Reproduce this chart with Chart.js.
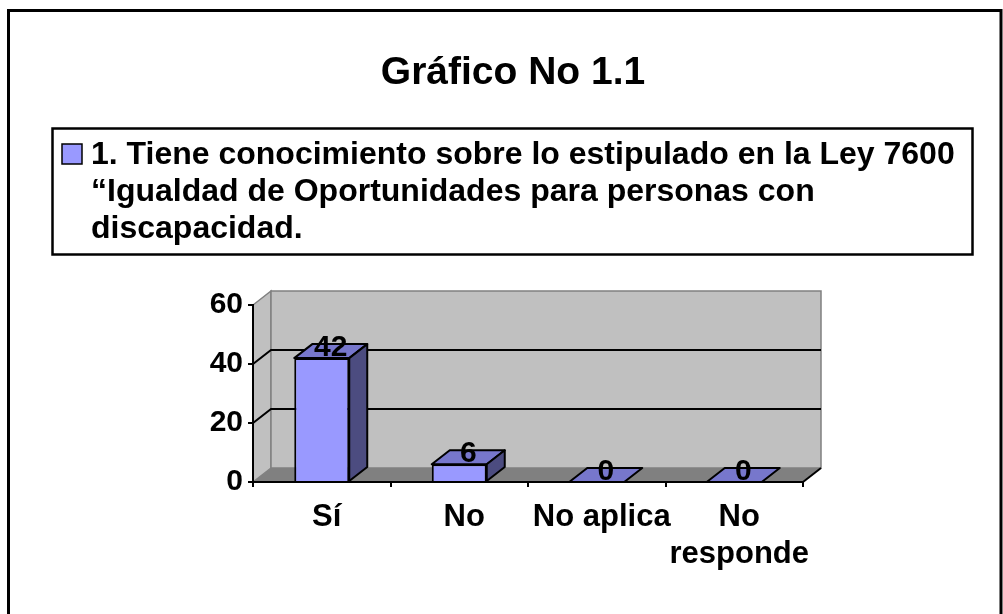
<!DOCTYPE html>
<html>
<head>
<meta charset="utf-8">
<script src="https://cdn.jsdelivr.net/npm/chart.js@4.4.0/dist/chart.umd.min.js"></script>
<style>
  html, body { margin: 0; padding: 0; background: #fff; }
  #wrap { position: relative; width: 1003px; height: 614px; }
</style>
</head>
<body>
<div id="wrap"><canvas id="chart" width="1003" height="614"></canvas></div>
<script>
// -------------------------------
// DATA
// -------------------------------
const chartTitle = "Gráfico No 1.1";
const seriesLines = [
    "1. Tiene conocimiento sobre lo estipulado en la Ley 7600",
    "“Igualdad de Oportunidades para personas con",
    "discapacidad."
];
const categories = ["Sí", "No", "No aplica", ["No", "responde"]];
const values = [42, 6, 0, 0];
const yTicks = [0, 20, 40, 60];

// -------------------------------
// STYLE
// -------------------------------
const FONT = "'Liberation Sans', Arial, sans-serif";
const DX = 18, DY = -14;           // depth offset of the 3D box
const barFront = "#9999ff";
const barTop = "#7777cc";
const barSide = "#4c4c80";

Chart.defaults.font.family = FONT;
Chart.defaults.color = "#000";

// walls, floor and back gridlines (drawn before the axes)
const wallsPlugin = {
    id: "walls3d",
    beforeDraw(chart) {
        const { ctx, chartArea: a, scales: { y } } = chart;
        ctx.save();

        // page frame
        ctx.strokeStyle = "#000";
        ctx.lineWidth = 3;
        ctx.beginPath();
        ctx.moveTo(8.5, 614);
        ctx.lineTo(8.5, 10.5);
        ctx.lineTo(1001, 10.5);
        ctx.lineTo(1001, 614);
        ctx.stroke();

        // side wall
        ctx.fillStyle = "#c0c0c0";
        ctx.strokeStyle = "#808080";
        ctx.lineWidth = 1.5;
        ctx.beginPath();
        ctx.moveTo(a.left, a.top);
        ctx.lineTo(a.left + DX, a.top + DY);
        ctx.lineTo(a.left + DX, a.bottom + DY);
        ctx.lineTo(a.left, a.bottom);
        ctx.closePath();
        ctx.fill();
        ctx.stroke();

        // back wall
        ctx.fillRect(a.left + DX, a.top + DY, a.width, a.height);
        ctx.strokeRect(a.left + DX, a.top + DY, a.width, a.height);

        // floor
        ctx.fillStyle = "#808080";
        ctx.beginPath();
        ctx.moveTo(a.left, a.bottom);
        ctx.lineTo(a.left + DX, a.bottom + DY);
        ctx.lineTo(a.right + DX, a.bottom + DY);
        ctx.lineTo(a.right, a.bottom);
        ctx.closePath();
        ctx.fill();
        ctx.strokeStyle = "#000";
        ctx.lineWidth = 2;
        ctx.beginPath();
        ctx.moveTo(a.right, a.bottom);
        ctx.lineTo(a.right + DX, a.bottom + DY);
        ctx.stroke();

        // gridlines on side and back wall
        yTicks.slice(1, -1).forEach(v => {
            const py = y.getPixelForValue(v);
            ctx.beginPath();
            ctx.moveTo(a.left, py);
            ctx.lineTo(a.left + DX, py + DY);
            ctx.lineTo(a.right + DX, py + DY);
            ctx.stroke();
        });
        ctx.restore();
    }
};

// top and side faces of the bars, plus value labels
const barsPlugin = {
    id: "bars3d",
    afterDatasetsDraw(chart) {
        const { ctx } = chart;
        const meta = chart.getDatasetMeta(0);
        ctx.save();
        ctx.strokeStyle = "#000";
        ctx.lineWidth = 2;
        ctx.lineJoin = "round";
        meta.data.forEach((bar, i) => {
            const { x, y, base, width } = bar.getProps(["x", "y", "base", "width"], true);
            const l = x - width / 2, r = x + width / 2;

            ctx.fillStyle = barTop;
            ctx.beginPath();
            ctx.moveTo(l, y);
            ctx.lineTo(l + DX, y + DY);
            ctx.lineTo(r + DX, y + DY);
            ctx.lineTo(r, y);
            ctx.closePath();
            ctx.fill();
            ctx.stroke();

            if (base - y > 0.5) {
                ctx.fillStyle = barSide;
                ctx.beginPath();
                ctx.moveTo(r, y);
                ctx.lineTo(r + DX, y + DY);
                ctx.lineTo(r + DX, base + DY);
                ctx.lineTo(r, base);
                ctx.closePath();
                ctx.fill();
                ctx.stroke();
            }

            ctx.fillStyle = "#000";
            ctx.font = "bold 30px " + FONT;
            ctx.textAlign = "center";
            ctx.textBaseline = "alphabetic";
            ctx.fillText(String(values[i]), x + DX / 2, y - 2);
        });
        ctx.restore();
    }
};

// boxed legend with wrapped series name
const legendBoxPlugin = {
    id: "legendBox",
    afterDraw(chart) {
        const { ctx } = chart;
        ctx.save();
        ctx.strokeStyle = "#000";
        ctx.lineWidth = 2.5;
        ctx.strokeRect(52.5, 128.5, 920, 126);

        ctx.fillStyle = barFront;
        ctx.lineWidth = 1.5;
        ctx.fillRect(62, 144, 20, 20);
        ctx.strokeRect(62, 144, 20, 20);

        ctx.fillStyle = "#000";
        ctx.font = "bold 32px " + FONT;
        ctx.textAlign = "left";
        ctx.textBaseline = "alphabetic";
        seriesLines.forEach((line, i) => ctx.fillText(line, 91, 164 + i * 37));
        ctx.restore();
    }
};

// -------------------------------
// CHART
// -------------------------------
const ctx = document.getElementById("chart").getContext("2d");

new Chart(ctx, {
    type: "bar",
    data: {
        labels: categories,
        datasets: [{
            label: seriesLines.join(" "),
            data: values,
            backgroundColor: barFront,
            borderColor: "#000",
            borderWidth: 2,
            barPercentage: 0.4,
            categoryPercentage: 1
        }]
    },
    options: {
        responsive: false,
        animation: false,
        devicePixelRatio: 1,
        layout: { padding: { top: 50, left: 193, right: 170, bottom: 32 } },
        plugins: {
            legend: { display: false },
            tooltip: { enabled: false },
            title: {
                display: true,
                text: chartTitle,
                color: "#000",
                font: { size: 39, weight: "bold", lineHeight: 1.2 },
                padding: { top: 0, bottom: 208.2 }
            }
        },
        scales: {
            x: {
                afterFit: s => { s.height = 100; },
                grid: { drawOnChartArea: false, drawTicks: true, tickLength: 5, color: "#000", lineWidth: 2, offset: true },
                border: { color: "#000", width: 2 },
                ticks: {
                    color: "#000",
                    font: { size: 31, weight: "bold", lineHeight: 1.2 },
                    padding: 12,
                    maxRotation: 0,
                    autoSkip: false,
                    labelOffset: 5
                }
            },
            y: {
                min: yTicks[0],
                max: yTicks[yTicks.length - 1],
                afterFit: s => { s.width = 60; },
                grid: { drawOnChartArea: false, drawTicks: true, tickLength: 5, color: "#000", lineWidth: 2 },
                border: { color: "#000", width: 2 },
                ticks: {
                    stepSize: yTicks[1] - yTicks[0],
                    color: "#000",
                    font: { size: 30, weight: "bold" },
                    padding: 5
                }
            },
            // empty spacer on the right so the plot ends where the reference does
            yRight: {
                position: "right",
                afterFit: s => { s.width = 30; },
                grid: { display: false },
                border: { display: false },
                ticks: { display: false }
            }
        }
    },
    plugins: [wallsPlugin, barsPlugin, legendBoxPlugin]
});
</script>
</body>
</html>
